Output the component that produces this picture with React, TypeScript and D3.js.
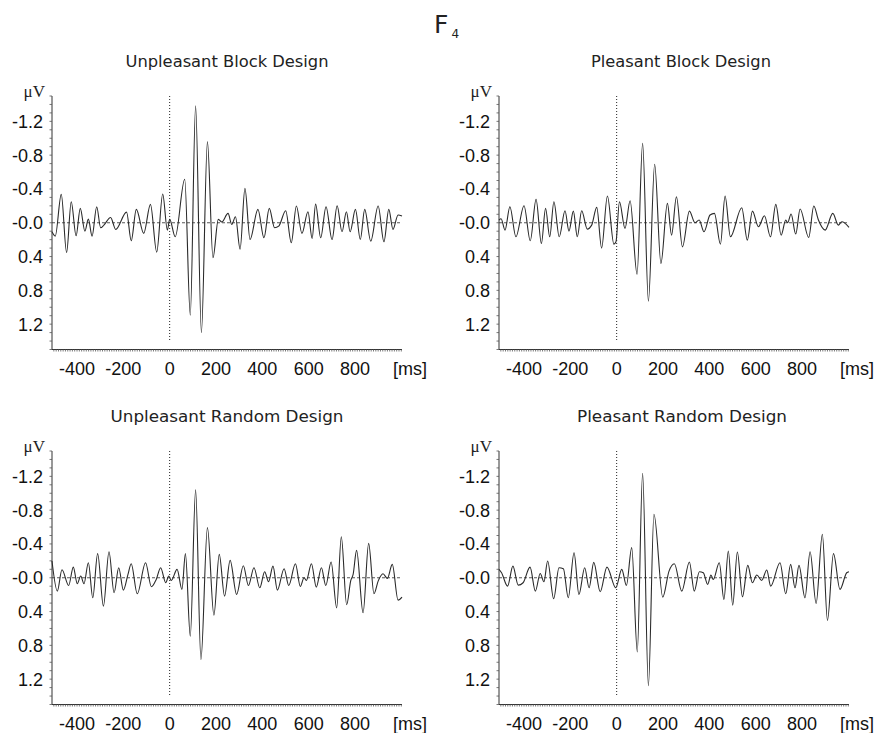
import React from 'react';
import * as d3 from 'd3';

// [time in ms, amplitude in μV] — extrema
const unpleasantBlock: [number, number][] = [
  [-508, 0.107], [-494, 0.158], [-468, -0.336], [-445, 0.352], [-425, -0.249], [-404, 0.154],
  [-386, -0.17], [-366, 0.099], [-351, -0.043], [-335, 0.158], [-315, -0.19], [-298, 0.059],
  [-284, 0.028], [-255, -0.063], [-233, 0.079], [-186, -0.126], [-166, 0.213], [-144, -0.158],
  [-112, 0.126], [-83, -0.217], [-56, 0.348], [-30, -0.34], [-10, 0.087], [0, -0.04],
  [24, 0.166], [65, -0.514], [89, 1.095], [112, -1.383], [137, 1.3], [163, -0.96],
  [187, 0.415], [210, -0.04], [225, -0.008], [252, -0.111], [268, 0.02], [284, -0.071],
  [304, 0.312], [325, -0.407], [347, 0.198], [381, -0.158], [407, 0.178], [430, -0.17],
  [453, 0.059], [471, 0.04], [501, -0.142], [525, 0.237], [547, -0.198], [571, 0.126],
  [597, -0.13], [615, 0.186], [630, -0.221], [652, 0.178], [675, -0.19], [701, 0.198],
  [723, -0.202], [744, 0.107], [763, -0.13], [779, 0.107], [802, -0.158], [823, 0.198],
  [842, -0.158], [868, 0.217], [900, -0.198], [925, 0.225], [946, -0.158], [964, 0.079],
  [986, -0.091], [1003, -0.079],
];

const pleasantBlock: [number, number][] = [
  [-508, -0.032], [-499, -0.047], [-482, 0.087], [-461, -0.19], [-435, 0.166], [-400, -0.202],
  [-373, 0.213], [-348, -0.277], [-325, 0.245], [-307, -0.17], [-289, 0.166], [-271, -0.249],
  [-248, 0.166], [-223, -0.142], [-206, 0.099], [-187, -0.138], [-170, 0.166], [-151, -0.142],
  [-127, 0.075], [-108, 0.028], [-86, -0.182], [-65, 0.3], [-40, -0.316], [-12, 0.253],
  [-3, 0.225], [12, -0.249], [36, 0.067], [58, -0.261], [88, 0.609], [112, -0.941],
  [137, 0.929], [164, -0.692], [191, 0.482], [219, -0.229], [237, 0.146], [258, -0.308],
  [284, 0.285], [314, -0.138], [338, 0.0], [356, -0.032], [377, 0.107], [403, -0.091],
  [422, -0.111], [448, 0.253], [468, -0.316], [491, 0.166], [540, -0.178], [564, 0.206],
  [586, -0.138], [612, 0.047], [638, -0.083], [664, 0.166], [687, -0.217], [710, 0.146],
  [730, -0.032], [738, 0.0], [753, -0.103], [773, 0.134], [792, -0.162], [829, 0.174],
  [851, -0.198], [871, -0.032], [900, 0.087], [933, -0.111], [957, 0.028], [972, -0.012],
  [1003, 0.055],
];

const unpleasantRandom: [number, number][] = [
  [-508, -0.198], [-485, 0.158], [-465, -0.095], [-436, 0.091], [-416, -0.126], [-399, 0.071],
  [-384, -0.02], [-370, 0.071], [-351, -0.178], [-332, 0.237], [-311, -0.285], [-286, 0.336],
  [-262, -0.308], [-240, 0.178], [-220, -0.119], [-200, 0.146], [-180, -0.04], [-166, -0.166],
  [-140, 0.19], [-104, -0.178], [-79, 0.107], [-58, 0.02], [-39, -0.119], [-17, 0.059],
  [-4, -0.02], [7, 0.032], [32, -0.099], [53, 0.138], [68, -0.285], [89, 0.692],
  [112, -1.04], [135, 0.968], [163, -0.593], [191, 0.443], [214, -0.277], [237, 0.217],
  [261, -0.206], [289, 0.198], [318, -0.142], [340, 0.091], [364, -0.119], [389, 0.119],
  [410, -0.071], [427, 0.047], [446, -0.138], [465, 0.146], [494, -0.107], [514, 0.091],
  [543, -0.166], [564, 0.103], [580, 0.0], [590, 0.032], [612, -0.166], [633, 0.111],
  [655, -0.119], [674, 0.091], [697, -0.186], [721, 0.356], [741, -0.486], [764, 0.32],
  [782, 0.032], [792, -0.04], [807, -0.324], [835, 0.415], [859, -0.407], [882, 0.19],
  [900, 0.04], [921, -0.047], [940, 0.008], [961, -0.158], [986, 0.265], [1003, 0.229],
];

const pleasantRandom: [number, number][] = [
  [-508, -0.099], [-497, -0.059], [-471, 0.099], [-448, -0.138], [-425, 0.087], [-404, 0.059],
  [-374, -0.126], [-351, 0.158], [-330, -0.051], [-314, 0.047], [-298, -0.198], [-272, 0.249],
  [-249, -0.119], [-230, -0.107], [-209, 0.237], [-184, -0.296], [-163, 0.198], [-138, -0.119],
  [-119, 0.119], [-99, -0.182], [-71, 0.166], [-42, -0.126], [-4, 0.119], [22, -0.099],
  [42, 0.091], [65, -0.356], [89, 0.877], [112, -1.237], [137, 1.277], [161, -0.751],
  [199, 0.229], [226, -0.079], [249, -0.166], [281, 0.158], [314, -0.186], [335, 0.158],
  [357, -0.071], [374, -0.059], [393, 0.079], [407, -0.032], [417, 0.02], [443, -0.178],
  [463, 0.257], [482, -0.316], [501, 0.324], [521, -0.304], [543, 0.225], [566, -0.146],
  [586, 0.059], [605, -0.032], [626, 0.032], [648, -0.091], [665, 0.099], [705, -0.178],
  [730, 0.19], [751, -0.158], [770, 0.119], [787, -0.146], [813, 0.237], [835, -0.308],
  [861, 0.304], [888, -0.514], [910, 0.506], [936, -0.285], [964, 0.138], [993, -0.059],
  [1003, -0.071],
];

const yTickValues = [-1.2, -0.8, -0.4, 0, 0.4, 0.8, 1.2];
const yTickLabels = ['-1.2', '-0.8', '-0.4', '-0.0', '0.4', '0.8', '1.2'];
const xTickValues = [-400, -200, 0, 200, 400, 600, 800];
const timeDomain: [number, number] = [-508, 1003];
const ampDomain: [number, number] = [-1.5, 1.5];

const panelTitles = [
  'Unpleasant Block Design',
  'Pleasant Block Design',
  'Unpleasant Random Design',
  'Pleasant Random Design',
];

const PW = 350;
const PH = 253.5;

type PanelProps = {
  left: number;
  top: number;
  title: string;
  titleCx: number;
  titleLen: number;
  data: [number, number][];
};

function Panel({ left, top, title, titleCx, titleLen, data }: PanelProps) {
  const x = d3.scaleLinear().domain(timeDomain).range([0, PW]);
  const y = d3.scaleLinear().domain(ampDomain).range([0, PH]);
  const line = d3
    .line<[number, number]>()
    .x((d) => x(d[0]))
    .y((d) => y(d[1]))
    .curve(d3.curveMonotoneX);
  const minorY = d3.range(-15, 16).map((i) => i / 10);
  const minorX = d3.range(-500, 1001, 10);
  const tickFont = "'Liberation Sans', Arial, sans-serif";
  return (
    <g transform={`translate(${left},${top})`}>
      <text
        x={titleCx}
        y={-29}
        textAnchor="middle"
        fontFamily="'DejaVu Sans', sans-serif"
        fontSize={16}
        fill="#222"
        textLength={titleLen}
        lengthAdjust="spacingAndGlyphs"
      >
        {title}
      </text>
      <text
        x={-7}
        y={1}
        textAnchor="end"
        fontFamily="'Liberation Serif', 'Times New Roman', serif"
        fontSize={17}
        fill="#222"
      >
        μV
      </text>
      {/* zero reference line */}
      <line x1={0} x2={PW} y1={y(0)} y2={y(0)} stroke="#444" strokeWidth={0.9} strokeDasharray="3,2" />
      {/* stimulus onset */}
      <line x1={x(0)} x2={x(0)} y1={y(-1.5)} y2={y(1.4)} stroke="#222" strokeWidth={1} strokeDasharray="1,2" />
      {/* y axis */}
      <line x1={0} x2={0} y1={0} y2={PH} stroke="#333" strokeWidth={1} />
      {minorY.map((v) => (
        <line key={'my' + v} x1={-2.5} x2={0} y1={y(v)} y2={y(v)} stroke="#555" strokeWidth={0.8} />
      ))}
      {yTickValues.map((v, i) => (
        <text
          key={'yl' + v}
          x={-9}
          y={y(v)}
          dy="0.36em"
          textAnchor="end"
          fontFamily={tickFont}
          fontSize={18}
          fill="#111"
        >
          {yTickLabels[i]}
        </text>
      ))}
      {/* x axis */}
      <line x1={0} x2={PW} y1={PH} y2={PH} stroke="#333" strokeWidth={1} />
      {minorX.map((t) => (
        <line key={'mx' + t} x1={x(t)} x2={x(t)} y1={PH} y2={PH + 2} stroke="#555" strokeWidth={0.8} />
      ))}
      {xTickValues.map((t) => (
        <text
          key={'xl' + t}
          x={x(t)}
          y={PH + 25}
          textAnchor="middle"
          fontFamily={tickFont}
          fontSize={18}
          fill="#111"
        >
          {t}
        </text>
      ))}
      <text x={PW - 9} y={PH + 25} textAnchor="start" fontFamily={tickFont} fontSize={18} fill="#111">
        [ms]
      </text>
      {/* trace */}
      <path d={line(data) || ''} fill="none" stroke="#2a2a2a" strokeWidth={1.1} />
    </g>
  );
}

export default function App() {
  const series = [unpleasantBlock, pleasantBlock, unpleasantRandom, pleasantRandom];
  const layout = [
    { left: 52, top: 96, titleCx: 175, titleLen: 203 },
    { left: 499, top: 96, titleCx: 182, titleLen: 180 },
    { left: 52, top: 451, titleCx: 175, titleLen: 233 },
    { left: 499, top: 451, titleCx: 183, titleLen: 210 },
  ];
  return (
    <div style={{ position: 'absolute', left: 0, top: 0 }}>
      <svg width={877} height={733} style={{ display: 'block', background: '#fff' }}>
        <text x={434} y={33} fontFamily="'DejaVu Sans', sans-serif" fontSize={25} fill="#222">
          F
          <tspan fontSize={12} dx={3} dy={5}>
            4
          </tspan>
        </text>
        {layout.map((l, i) => (
          <Panel
            key={i}
            left={l.left}
            top={l.top}
            title={panelTitles[i]}
            titleCx={l.titleCx}
            titleLen={l.titleLen}
            data={series[i]}
          />
        ))}
      </svg>
    </div>
  );
}
